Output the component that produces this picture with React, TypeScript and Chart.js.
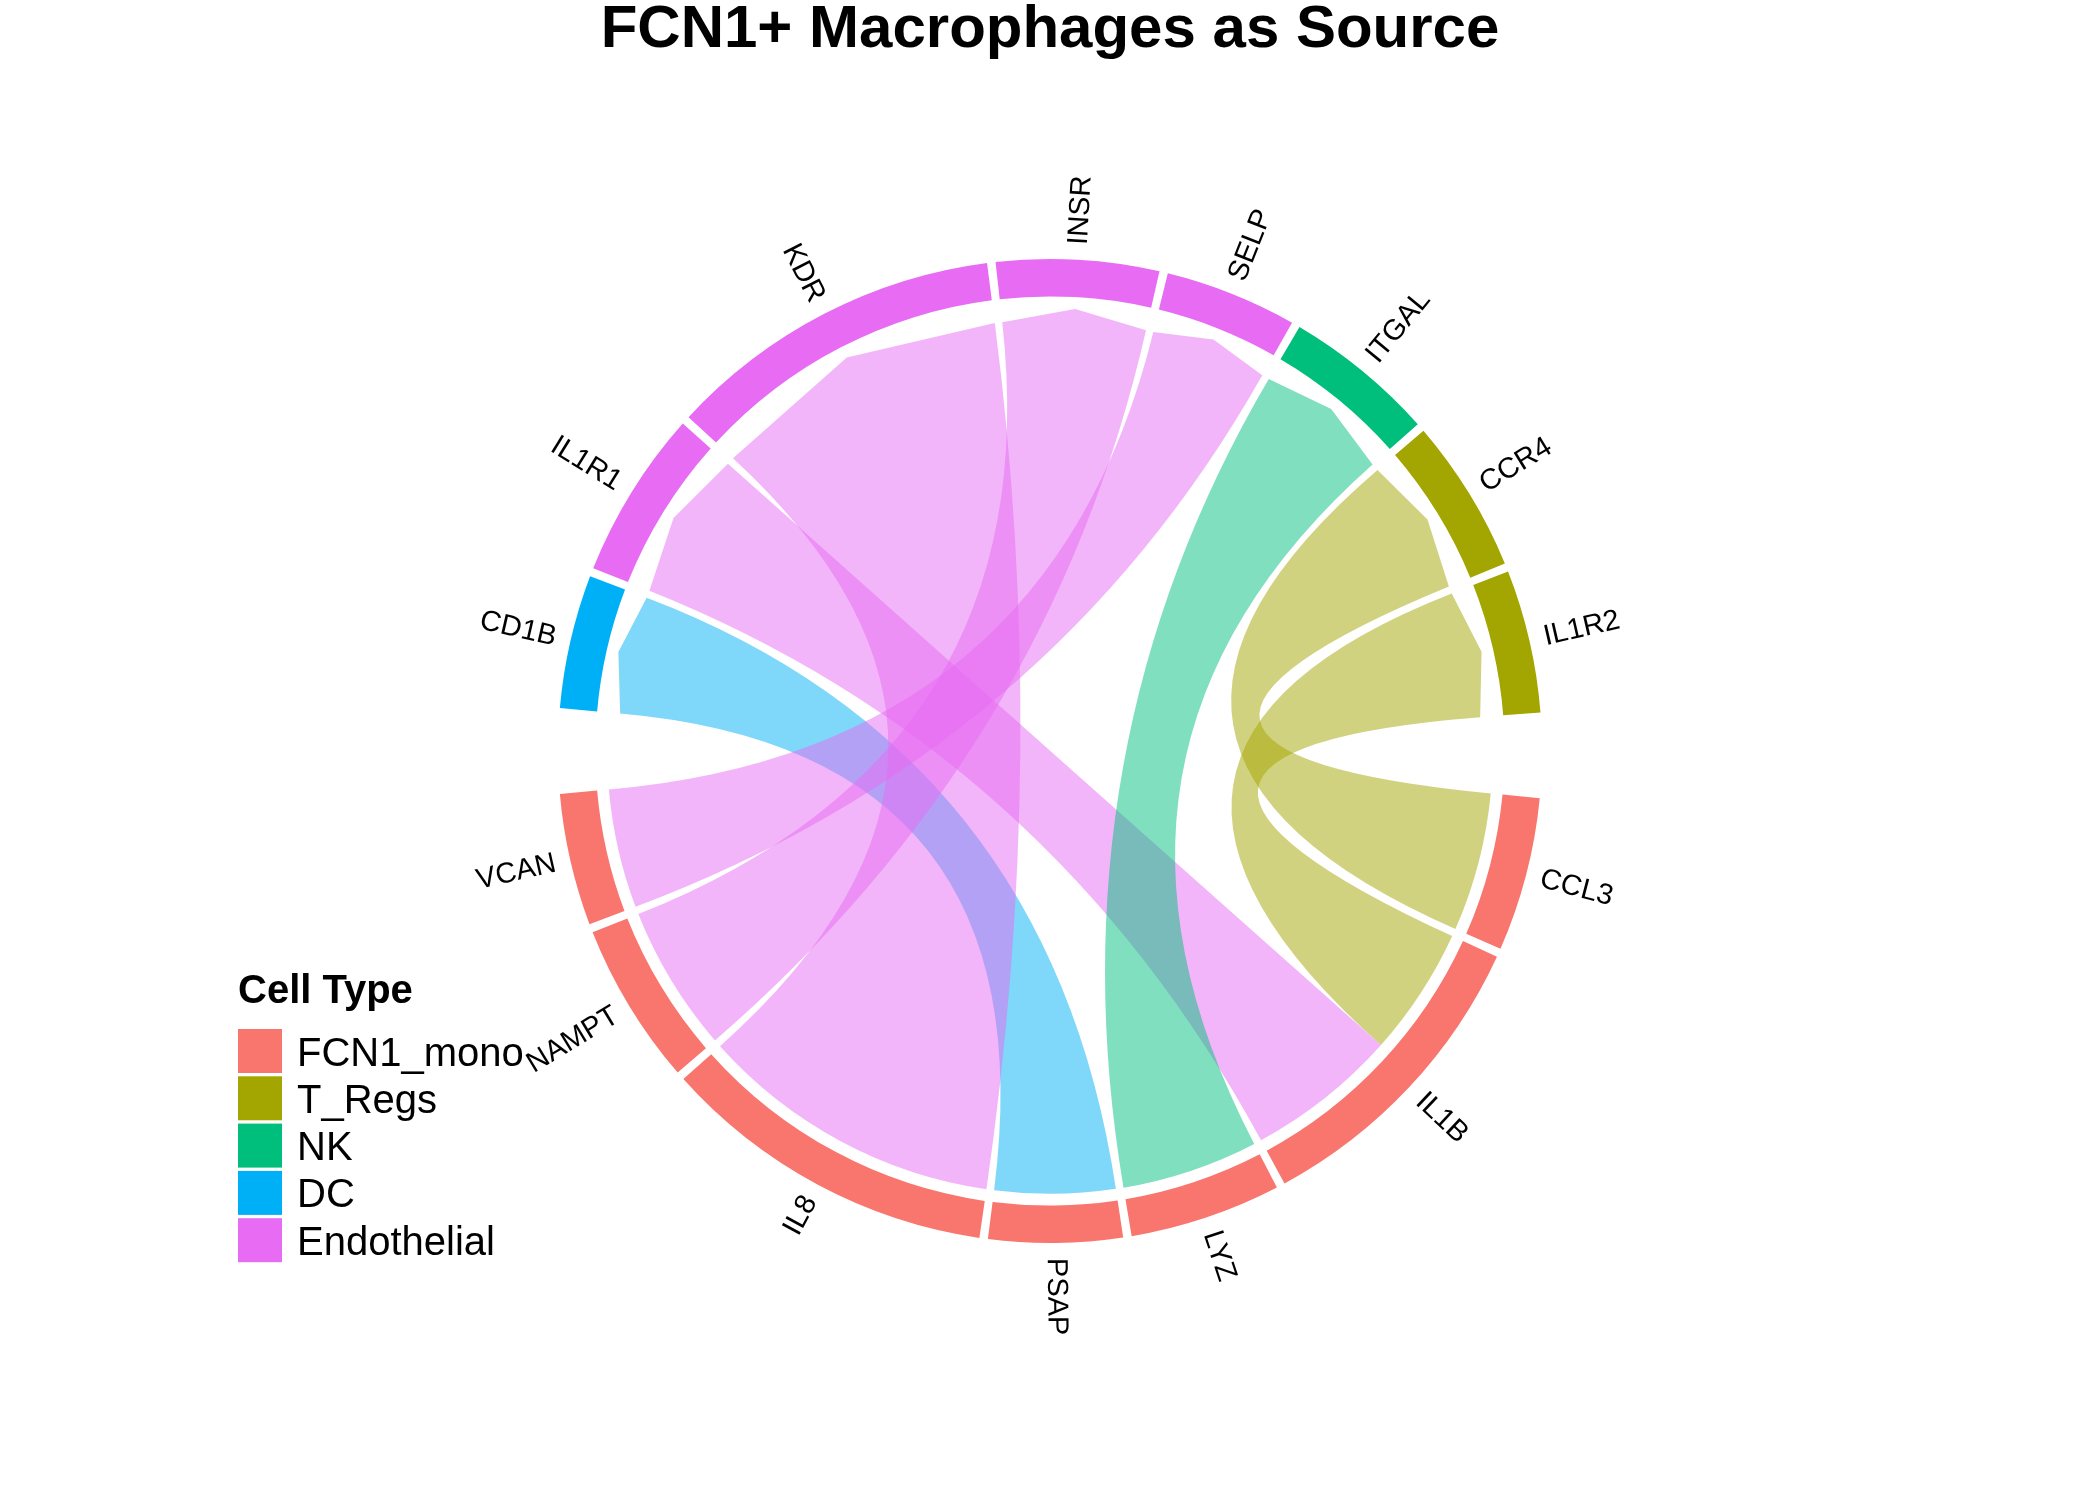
import { useEffect, useRef } from "react"
import { Chart, registerables } from "chart.js"

Chart.register(...registerables)

// ligand genes (FCN1+ macrophages) in clockwise order
const ligands = ["CCL3", "IL1B", "LYZ", "PSAP", "IL8", "NAMPT", "VCAN"]
const sourceType = "FCN1_mono"

// receptor genes in clockwise order, with the cell type that expresses them
const receptors = ["CD1B", "IL1R1", "KDR", "INSR", "SELP", "ITGAL", "CCR4", "IL1R2"]
const receptorTypes = ["DC", "Endothelial", "Endothelial", "Endothelial", "Endothelial", "NK", "T_Regs", "T_Regs"]

const cellTypes = ["FCN1_mono", "T_Regs", "NK", "DC", "Endothelial"]
const cellColors = ["#F8766D", "#A3A500", "#00BF7D", "#00B0F6", "#E76BF3"]

// interactions, in drawing order
const linkFrom = ["IL1B", "CCL3", "PSAP", "IL1B", "IL8", "NAMPT", "VCAN", "LYZ"]
const linkTo = ["IL1R2", "CCR4", "CD1B", "IL1R1", "KDR", "INSR", "SELP", "ITGAL"]
const linkStrength = [16.9, 18.2, 15.8, 19.9, 39.9, 19.2, 15.6, 17.9]

// gaps between sectors, in degrees
const smallGap = 1
const bigGap = 10

const FONT = "'Liberation Sans', Arial, Helvetica, sans-serif"

const colorOf = (type: string) => cellColors[cellTypes.indexOf(type)]

function withAlpha(hex: string, a: number) {
  const n = parseInt(hex.slice(1), 16)
  return `rgba(${(n >> 16) & 255}, ${(n >> 8) & 255}, ${n & 255}, ${a})`
}

function sumFor(name: string) {
  let s = 0
  linkFrom.forEach((f, i) => {
    if (f === name || linkTo[i] === name) s += linkStrength[i]
  })
  return s
}

// build the ring: sectors plus transparent gap entries
const sectorNames: string[] = []
const sectorValues: number[] = []
const sectorColors: string[] = []
const gapDegrees: number[] = []

ligands.forEach((g, i) => {
  sectorNames.push(g)
  sectorValues.push(sumFor(g))
  sectorColors.push(colorOf(sourceType))
  sectorNames.push("")
  sectorValues.push(0)
  sectorColors.push("rgba(0,0,0,0)")
  gapDegrees[sectorNames.length - 1] = i < ligands.length - 1 ? smallGap : bigGap
})
receptors.forEach((g, i) => {
  sectorNames.push(g)
  sectorValues.push(sumFor(g))
  sectorColors.push(colorOf(receptorTypes[i]))
  sectorNames.push("")
  sectorValues.push(0)
  sectorColors.push("rgba(0,0,0,0)")
  gapDegrees[sectorNames.length - 1] = i < receptors.length - 1 ? smallGap : bigGap
})

const totalGap = gapDegrees.reduce((a, b) => a + (b || 0), 0)
const totalValue = sectorValues.reduce((a, b) => a + b, 0)
const unit = (360 - totalGap) / totalValue
const sectorDegrees = sectorNames.map((n, i) => (n ? sectorValues[i] * unit : gapDegrees[i]))

const chordPlugin = {
  id: "chord",
  beforeDatasetsDraw(chart: any) {
    const ctx = chart.ctx
    const arcs = chart.getDatasetMeta(0).data as any[]
    const cursor: Record<string, number> = {}

    const span = (name: string, value: number) => {
      const i = sectorNames.indexOf(name)
      const arc = arcs[i]
      const per = (arc.endAngle - arc.startAngle) / sectorValues[i]
      const a0 = cursor[name] ?? arc.startAngle
      const a1 = a0 + value * per
      cursor[name] = a1
      return [a0, a1]
    }

    ctx.save()
    linkFrom.forEach((from, k) => {
      const [s0, s1] = span(from, linkStrength[k])
      const [t0, t1] = span(linkTo[k], linkStrength[k])
      const ref = arcs[0]
      const cx = ref.x
      const cy = ref.y
      // source end sits a little closer to the ring than the target end
      const rs = ref.outerRadius * 0.9
      const rc = ref.outerRadius * 0.877
      const rm = ref.outerRadius * 0.9
      const px = (r: number, a: number) => cx + r * Math.cos(a)
      const py = (r: number, a: number) => cy + r * Math.sin(a)

      ctx.beginPath()
      ctx.moveTo(px(rs, s0), py(rs, s0))
      ctx.arc(cx, cy, rs, s0, s1, false)
      ctx.quadraticCurveTo(cx, cy, px(rc, t0), py(rc, t0))
      ctx.lineTo(px(rm, (t0 + t1) / 2), py(rm, (t0 + t1) / 2))
      ctx.lineTo(px(rc, t1), py(rc, t1))
      ctx.quadraticCurveTo(cx, cy, px(rs, s0), py(rs, s0))
      ctx.closePath()
      const type = receptorTypes[receptors.indexOf(linkTo[k])]
      ctx.fillStyle = withAlpha(colorOf(type), 0.5)
      ctx.fill()
    })
    ctx.restore()
  },
  afterDatasetsDraw(chart: any) {
    const ctx = chart.ctx
    const arcs = chart.getDatasetMeta(0).data as any[]

    // sector labels, facing radially
    ctx.save()
    ctx.font = `29px ${FONT}`
    ctx.fillStyle = "#000"
    ctx.textBaseline = "middle"
    arcs.forEach((arc, i) => {
      const name = sectorNames[i]
      if (!name) return
      const mid = (arc.startAngle + arc.endAngle) / 2
      const r = arc.outerRadius + 15
      ctx.save()
      ctx.translate(arc.x, arc.y)
      ctx.rotate(mid)
      if (Math.cos(mid) >= 0) {
        ctx.textAlign = "left"
        ctx.fillText(name, r, 0)
      } else {
        ctx.rotate(Math.PI)
        ctx.textAlign = "right"
        ctx.fillText(name, -r, 0)
      }
      ctx.restore()
    })
    ctx.restore()

    // legend
    ctx.save()
    ctx.fillStyle = "#000"
    ctx.textAlign = "left"
    ctx.textBaseline = "alphabetic"
    ctx.font = `bold 40px ${FONT}`
    ctx.fillText("Cell Type", 238, 1003)
    ctx.font = `40px ${FONT}`
    cellTypes.forEach((t, i) => {
      const top = 1029 + i * 47.3
      ctx.fillStyle = cellColors[i]
      ctx.fillRect(238, top, 44, 44)
      ctx.fillStyle = "#000"
      ctx.fillText(t, 297, top + 36.5)
    })
    ctx.restore()
  },
}

export default function App() {
  const chartRef = useRef<HTMLCanvasElement>(null)

  useEffect(() => {
    if (!chartRef.current) return

    const chart = new Chart(chartRef.current, {
      type: "doughnut",
      data: {
        labels: sectorNames,
        datasets: [
          {
            data: sectorDegrees,
            backgroundColor: sectorColors,
            borderWidth: 0,
            hoverOffset: 0,
          },
        ],
      },
      options: {
        responsive: false,
        animation: false,
        devicePixelRatio: 1,
        events: [],
        rotation: 95.5,
        circumference: 360,
        radius: 492,
        cutout: "92.4%",
        layout: { padding: { top: 0, bottom: 58, left: 0, right: 0 } },
        plugins: {
          legend: { display: false },
          tooltip: { enabled: false },
          title: {
            display: true,
            text: "FCN1+ Macrophages as Source",
            color: "#000",
            padding: 0,
            font: { family: FONT, size: 60, weight: "bold", lineHeight: 1 },
          },
        },
      } as any,
      plugins: [chordPlugin],
    })

    return () => {
      chart.destroy()
    }
  }, [])

  return (
    <div style={{ position: "absolute", left: 0, top: 0, width: 2100, height: 1500, background: "#fff" }}>
      <canvas ref={chartRef} width={2100} height={1500} style={{ width: 2100, height: 1500 }} />
    </div>
  )
}
